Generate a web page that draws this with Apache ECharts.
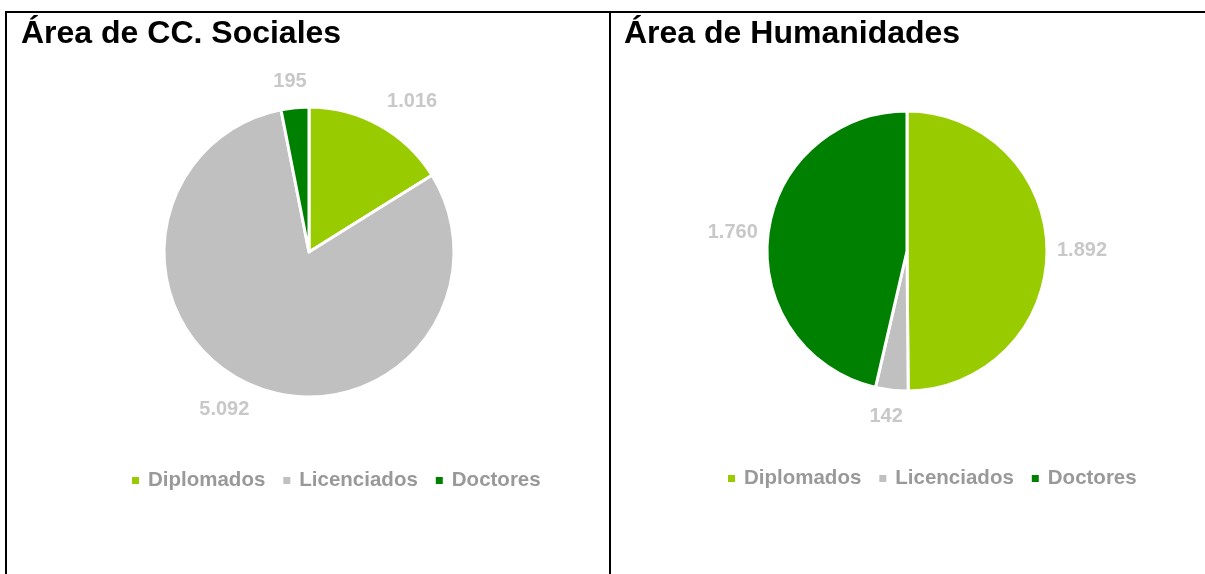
<!DOCTYPE html>
<html>
<head>
<meta charset="utf-8">
<script src="https://cdn.jsdelivr.net/npm/echarts@6/dist/echarts.min.js"></script>
<style>
  body { margin: 0; background: #fff; width: 1205px; height: 574px; overflow: hidden; position: relative; }
  #frame { position: absolute; left: 5px; top: 11px; width: 1210px; height: 580px; border-top: 2px solid #000; border-left: 2px solid #000; }
  #divider { position: absolute; left: 609px; top: 11px; width: 2px; height: 580px; background: #000; }
  #chart1 { position: absolute; left: 8px; top: 13px; width: 601px; height: 561px; }
  #chart2 { position: absolute; left: 611px; top: 13px; width: 594px; height: 561px; }
</style>
</head>
<body>
<div id="frame"></div>
<div id="divider"></div>
<div id="chart1"></div>
<div id="chart2"></div>
<script>
// datos
var categorias = ['Diplomados', 'Licenciados', 'Doctores'];
var colores = ['#99cc00', '#c0c0c0', '#008000'];
var sociales = [1016, 5092, 195];
var humanidades = [1892, 142, 1760];

function miles(v) {
    return String(v).replace(/\B(?=(\d{3})+(?!\d))/g, '.');
}

function clamp(v) {
    return Math.max(-1, Math.min(1, v));
}

// etiquetas fuera del sector: la esquina cercana de la etiqueta sobre el radio medio
function colocarEtiquetas(valores, centro, radio) {
    var total = valores.reduce(function (a, b) { return a + b; }, 0);
    var medios = [];
    var acum = 0;
    valores.forEach(function (v) {
        medios.push((acum + v / 2) / total * Math.PI * 2);
        acum += v;
    });
    return function (params) {
        var a = medios[params.dataIndex];
        var dx = Math.sin(a), dy = -Math.cos(a);
        var w = params.labelRect.width, h = params.labelRect.height;
        var sep = 18 - 8 * Math.pow(dx, 4);
        var d = radio + sep;
        return {
            x: centro[0] + dx * d + clamp(dx * 2) * w / 2,
            y: centro[1] + dy * d + clamp(dy * 2) * h * 0.42,
            align: 'center',
            verticalAlign: 'middle'
        };
    };
}

function crearOpcion(titulo, valores, centro, radio, legendLeft, legendTop) {
    return {
        animation: false,
        title: {
            text: titulo,
            left: 8,
            top: 0,
            textStyle: { fontFamily: 'Liberation Sans, Arial', fontSize: 32, fontWeight: 'bold', color: '#000' }
        },
        legend: {
            data: categorias,
            left: legendLeft,
            top: legendTop,
            icon: 'rect',
            itemWidth: 9,
            itemHeight: 9,
            itemGap: 16,
            textStyle: { fontFamily: 'Liberation Sans, Arial', fontSize: 20.5, fontWeight: 'bold', color: '#999999', padding: [0, 0, 0, 3] }
        },
        series: [{
            type: 'pie',
            center: centro,
            radius: radio,
            startAngle: 90,
            clockwise: true,
            avoidLabelOverlap: false,
            itemStyle: { borderColor: '#fff', borderWidth: 3 },
            label: {
                show: true,
                position: 'outside',
                formatter: function (p) { return miles(p.value); },
                fontFamily: 'Liberation Sans, Arial',
                fontSize: 20,
                fontWeight: 'bold',
                color: '#c8c8c8'
            },
            labelLine: { show: false, length: 8, length2: 0 },
            labelLayout: colocarEtiquetas(valores, centro, radio),
            emphasis: { disabled: true },
            data: categorias.map(function (c, i) {
                return { name: c, value: valores[i], itemStyle: { color: colores[i] } };
            })
        }]
    };
}

var myChart1 = echarts.init(document.getElementById('chart1'));
var myChart2 = echarts.init(document.getElementById('chart2'));

myChart1.setOption(crearOpcion('Área de CC. Sociales', sociales, [301, 239], 145, 117, 452));
myChart2.setOption(crearOpcion('Área de Humanidades', humanidades, [296, 238], 140, 110, 450));
</script>
</body>
</html>
